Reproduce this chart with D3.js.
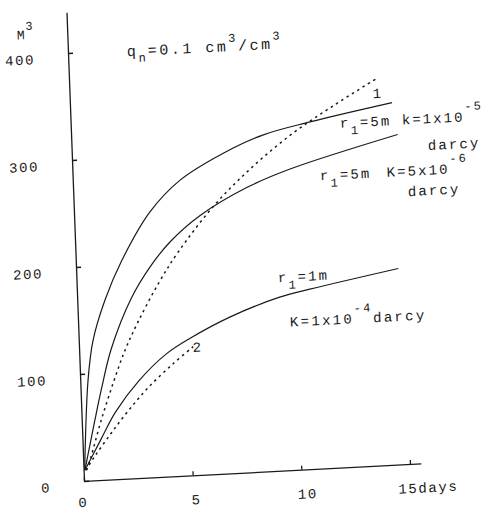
<!DOCTYPE html>
<html>
<head>
<meta charset="utf-8">
<script src="https://cdn.jsdelivr.net/npm/d3@7"></script>
<style>
  body { margin: 0; background: #fff; }
  text { font-family: "Liberation Mono", "DejaVu Sans Mono", monospace; fill: #1a1a1a; white-space: pre; }
</style>
</head>
<body>
<svg id="svg" width="494" height="513"></svg>
<script>
// values (days, m3)
const daysK1e5 = [0.05, 0.36, 0.66, 1.28, 2.12, 3.5, 4.93, 6.96, 8.8, 11.0, 14.8];
const volK1e5 = [10, 94, 131, 168, 204, 248, 276, 299, 314, 324, 338];

const daysK5e6 = [0.06, 0.59, 0.96, 1.48, 2.48, 3.42, 4.37, 5.79, 8.0, 10.0, 15.0];
const volK5e6 = [10, 55, 85, 122, 168, 197, 219, 242, 266, 281, 308];

const daysK1e4 = [0.06, 0.85, 1.57, 2.7, 4.03, 5.12, 7.0, 9.3, 10.7, 14.8];
const volK1e4 = [10, 38, 63, 91, 115, 128, 146, 162, 168, 183];

const daysCurve1 = [0.14, 0.36, 0.88, 1.51, 2.11, 2.76, 3.8, 4.72, 6.42, 8.17, 10.1, 12.1, 14.2];
const volCurve1 = [10, 22, 55, 90, 120, 146, 182, 209, 250, 283, 313, 338, 362];

const daysCurve2 = [0.1, 0.59, 1.32, 2.14, 3.11, 4.29, 5.25];
const volCurve2 = [10, 24, 43, 63, 84, 105, 120];

const xTicks = [0, 5, 10, 15];
const xTickLabels = ["0", "5", "10", "15days"];
const yTicks = [0, 100, 200, 300, 400];
const xMax = 15.5;
const yMax = 438;

const series = [
  { t: daysK1e5, v: volK1e5, dotted: false },
  { t: daysK5e6, v: volK5e6, dotted: false },
  { t: daysK1e4, v: volK1e4, dotted: false },
  { t: daysCurve1, v: volCurve1, dotted: true },
  { t: daysCurve2, v: volCurve2, dotted: true }
];

const originX = 84, originY = 481;
const pxPerDay = 21.73, pxPerUnit = 1.07;
// the scan is slightly tilted, so the whole plot gets a small shear
const shearX = 0.0374, shearY = -0.052;

const x = d3.scaleLinear().domain([0, xMax]).range([originX, originX + xMax * pxPerDay]);
const y = d3.scaleLinear().domain([0, yMax]).range([originY, originY - yMax * pxPerUnit]);

const svg = d3.select("#svg");
svg.append("rect").attr("width", 494).attr("height", 513).attr("fill", "#fff");

const g = svg.append("g")
  .attr("transform", `matrix(1,${shearY},${shearX},1,${-shearX * originY},${-shearY * originX})`);

// axes
const yAxis = d3.axisLeft(y)
  .tickValues(yTicks)
  .tickSizeInner(-5)
  .tickSizeOuter(0)
  .tickPadding(33)
  .tickFormat(d3.format("d"));

const yG = g.append("g").attr("transform", `translate(${x(0)},0)`).call(yAxis);
yG.selectAll("text").attr("dy", 9).style("font-size", "14px").style("letter-spacing", "1.6px");

const xAxis = d3.axisBottom(x)
  .tickValues(xTicks)
  .tickSizeInner(-4)
  .tickSizeOuter(0)
  .tickFormat((d, i) => xTickLabels[i]);

const xG = g.append("g").attr("transform", `translate(0,${y(0)})`).call(xAxis);
xG.selectAll("text")
  .attr("y", (d, i) => i === 0 ? 26 : 29).attr("dy", 0)
  .style("font-size", "14px").style("letter-spacing", "1.6px")
  .attr("text-anchor", (d, i) => i === xTicks.length - 1 ? "start" : "middle")
  .attr("x", (d, i) => i === xTicks.length - 1 ? -13 : (i === 0 ? -2 : i * 2.5));

g.selectAll(".domain, .tick line").attr("stroke", "#1a1a1a").attr("stroke-width", 1.3);
g.selectAll(".domain").attr("fill", "none");

// curves
const line = d3.line()
  .x(d => x(d[0]))
  .y(d => y(d[1]))
  .curve(d3.curveCatmullRom.alpha(0.5));

g.selectAll("path.curve")
  .data(series)
  .enter()
  .append("path")
  .attr("class", "curve")
  .attr("d", s => line(s.t.map((t, i) => [t, s.v[i]])))
  .attr("fill", "none")
  .attr("stroke", "#1a1a1a")
  .attr("stroke-width", s => s.dotted ? 1.5 : 1.2)
  .attr("stroke-dasharray", s => s.dotted ? "2.4,3.8" : null);

// text labels, placed in data coordinates
function addLabel(t, v, parts, size, spacing) {
  const txt = g.append("text")
    .attr("x", x(t))
    .attr("y", y(v))
    .style("font-size", size + "px")
    .style("letter-spacing", spacing + "px");
  let cur = 0;
  parts.forEach(p => {
    const shift = p.shift || 0;
    txt.append("tspan")
      .attr("dy", shift - cur)
      .attr("dx", p.dx || 0)
      .style("font-size", p.small ? "12px" : null)
      .text(p.s);
    cur = shift;
  });
}

addLabel(-2.32, 415, [{ s: "M" }, { s: "3", shift: -9, small: true }], 13, 1);
addLabel(2.7, 394, [
  { s: "q" }, { s: "n", shift: 6, small: true }, { s: "=0.1 cm" },
  { s: "3", shift: -9, small: true }, { s: "/cm" }, { s: "3", shift: -9, small: true }
], 15, 2.5);

addLabel(12.37, 317, [
  { s: "r" }, { s: "1", shift: 7, small: true }, { s: "=5m k=1x10" },
  { s: "-5", shift: -11, small: true }
], 14, 2.1);
addLabel(16.37, 292, [{ s: "darcy" }], 14, 2.1);

addLabel(11.36, 269, [
  { s: "r" }, { s: "1", shift: 7, small: true }, { s: "=5m" }, { s: " K=5x10", dx: 5 },
  { s: "-6", shift: -11, small: true }
], 14, 2.1);
addLabel(15.37, 250, [{ s: "darcy" }], 14, 2.1);

addLabel(9.25, 176, [{ s: "r" }, { s: "1", shift: 7, small: true }, { s: "=1m" }], 14, 2.1);
addLabel(9.73, 134, [{ s: "K=1x10" }, { s: "-4", shift: -11, small: true }, { s: "darcy" }], 14, 2.3);

addLabel(13.92, 343, [{ s: "1" }], 14, 0);
addLabel(5.22, 115, [{ s: "2" }], 14, 0);
</script>
</body>
</html>
